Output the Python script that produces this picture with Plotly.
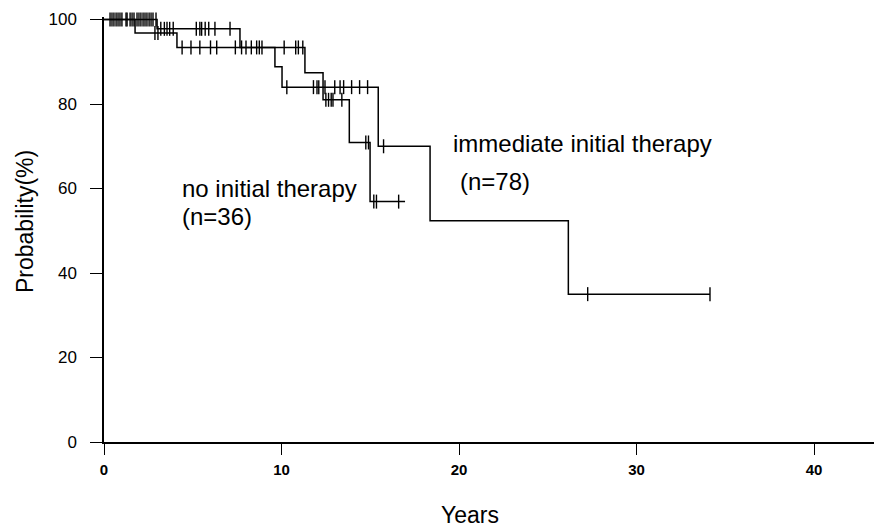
import plotly.graph_objects as go

# ---- data ----
# no initial therapy (n=36)
no_tx_times = [0, 1.75, 4.11, 11.32, 12.34, 13.82, 14.99, 16.96]
no_tx_surv = [100, 96.8, 93.4, 87.4, 81.0, 70.9, 56.9, 56.9]
no_tx_censor = [0.34, 0.56, 0.79, 1.01, 1.24, 1.47, 1.69,
                2.87, 3.04,
                4.4, 4.9, 5.4, 6.0, 6.35, 7.4, 7.75, 8.0, 8.3, 8.6, 8.75, 8.9,
                10.15, 10.8, 10.95, 11.2,
                12.5, 12.65, 12.8, 12.9, 13.4,
                14.75, 14.9,
                15.2, 15.35, 16.6]

# immediate initial therapy (n=78)
imm_times = [0, 2.99, 7.66, 9.63, 10.03, 15.45, 18.37, 26.16, 34.14]
imm_surv = [100, 97.8, 93.4, 88.8, 84.0, 70.0, 52.4, 35.0, 35.0]
imm_censor = [0.45, 0.68, 0.9, 1.3, 1.58, 1.86, 1.97, 2.08, 2.2, 2.31, 2.42,
              2.54, 2.65, 2.76, 2.93,
              3.2, 3.4, 3.55, 3.7, 3.9, 5.2, 5.4, 5.5, 5.7, 5.9, 6.25, 7.1,
              10.3, 11.8, 12.0, 12.1, 12.45, 13.0, 13.3, 13.5, 13.95, 14.4, 14.85,
              15.75,
              27.25, 34.14]

x_ticks = [0, 10, 20, 30, 40]
y_ticks = [0, 20, 40, 60, 80, 100]


def step_value(times, surv, t):
    v = surv[0]
    for ti, si in zip(times, surv):
        if ti <= t:
            v = si
    return v


FONT = "Liberation Sans, Arial, sans-serif"

# page offset of the plot div (body margin) and plot area in page pixels
OFF = 8
W, H = 882 - OFF, 527 - OFF
L, T, B = 104 - OFF, 17 - OFF, 85
PLOT_LEFT, PLOT_W = 104, W - L
PLOT_BOTTOM, PLOT_H = 442, H - T - B


def px(x):
    return (x - PLOT_LEFT) / PLOT_W


def py(y):
    return (PLOT_BOTTOM - y) / PLOT_H


fig = go.Figure()

for times, surv, cens, name in [
    (no_tx_times, no_tx_surv, no_tx_censor, "no initial therapy"),
    (imm_times, imm_surv, imm_censor, "immediate initial therapy"),
]:
    fig.add_trace(go.Scatter(
        x=times, y=surv, mode="lines", line=dict(shape="hv", color="black", width=1.5),
        name=name, showlegend=False, cliponaxis=False))
    fig.add_trace(go.Scatter(
        x=cens, y=[step_value(times, surv, t) for t in cens], mode="markers",
        marker=dict(symbol="line-ns", size=10, line=dict(color="black", width=1.4)),
        name=name + " censored", showlegend=False, cliponaxis=False))

labels = [
    ("immediate initial therapy", 451, 143),
    ("(n=78)", 458, 182),
    ("no initial therapy", 180, 188),
    ("(n=36)", 180, 216),
]
for txt, x0, y0 in labels:
    fig.add_annotation(x=px(x0), y=py(y0), xref="paper", yref="paper",
                       text=txt, showarrow=False, xanchor="left", yanchor="middle",
                       font=dict(size=24, family=FONT, color="black"))

# axis titles
fig.add_annotation(x=px(470), y=py(515), xref="paper", yref="paper",
                   text="Years", showarrow=False, xanchor="center", yanchor="middle",
                   font=dict(size=23, family=FONT, color="black"))
fig.add_annotation(x=px(25), y=py(222), xref="paper", yref="paper",
                   text="Probability(%)", showarrow=False, textangle=-90,
                   xanchor="center", yanchor="middle",
                   font=dict(size=23, family=FONT, color="black"))

fig.update_layout(
    width=W, height=H,
    margin=dict(l=L, r=0, t=T, b=B),
    paper_bgcolor="white", plot_bgcolor="white",
    showlegend=False,
)
fig.update_xaxes(
    range=[0, PLOT_W / 17.75], tickvals=x_ticks, ticktext=[str(v) for v in x_ticks],
    showgrid=False, zeroline=False, showline=True, linecolor="black", linewidth=1.5,
    ticks="outside", ticklen=11, tickwidth=1.3, tickcolor="black",
    ticklabelstandoff=2,
    tickfont=dict(size=15, family=FONT, color="black", weight="bold"),
)
fig.update_yaxes(
    range=[0, 100.6], tickvals=y_ticks, ticktext=[str(v) for v in y_ticks],
    showgrid=False, zeroline=False, showline=True, linecolor="black", linewidth=1.5,
    ticks="outside", ticklen=12, tickwidth=1.3, tickcolor="black",
    ticklabelstandoff=10,
    tickfont=dict(size=17, family=FONT, color="black"),
)

fig.write_html("out.html")
